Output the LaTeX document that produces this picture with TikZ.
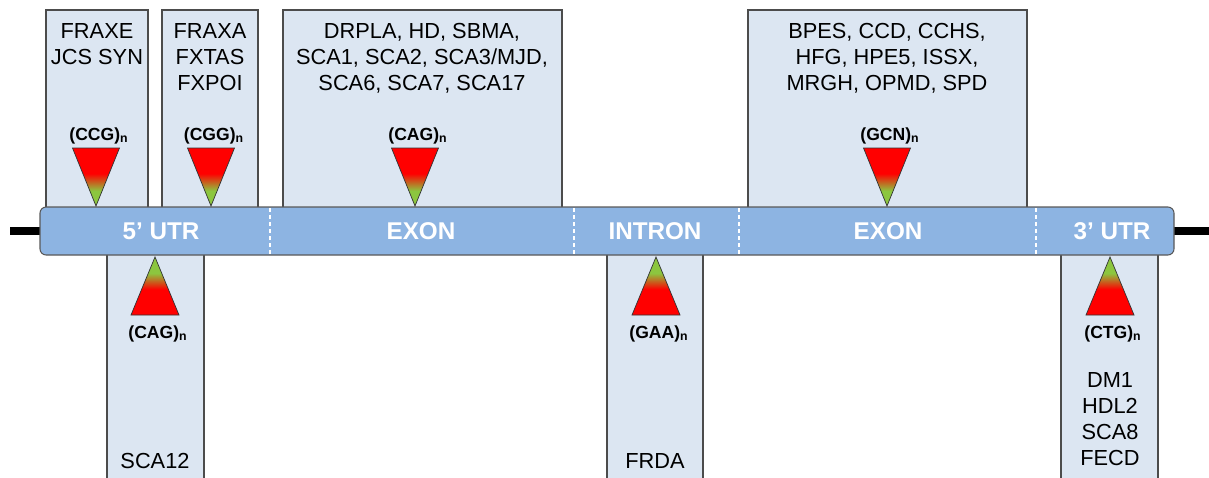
\documentclass[tikz,border=0pt]{standalone}
\usepackage{fontspec}
\setmainfont{Liberation Sans}
\usetikzlibrary{positioning}

\definecolor{boxblue}{RGB}{220,230,242}
\definecolor{barblue}{RGB}{141,180,226}
\definecolor{trigreen}{RGB}{140,198,63}

% red base fading into a green tip
\pgfdeclareverticalshading{repeatdown}{100bp}{color(0bp)=(trigreen); color(38bp)=(trigreen); color(53bp)=(red); color(100bp)=(red)}
\pgfdeclareverticalshading{repeatup}{100bp}{color(0bp)=(red); color(47bp)=(red); color(61bp)=(trigreen); color(100bp)=(trigreen)}

\tikzset{
  diseasebox/.style={draw=black!70, fill=boxblue, line width=0.6pt}, % light boxes holding the disease names
  genebar/.style={draw=black!65, fill=barblue, rounded corners=3.5pt, line width=0.6pt}, % the gene itself
  divider/.style={draw=white, dash pattern=on 2.4pt off 1.6pt, line width=0.9pt}, % borders between regions
  backbone/.style={draw=black, line width=4.8pt}, % flanking DNA
  region/.style={text=white, inner sep=0pt, font=\fontsize{13.8}{16}\selectfont\bfseries},
  disease/.style={align=center, inner sep=0pt, font=\fontsize{12.4}{14.9}\selectfont},
  motif/.style={inner sep=0pt, font=\fontsize{10}{12}\selectfont\bfseries},
  downrepeat/.style={shade, shading=repeatdown, draw=black!80, line width=0.4pt},
  uprepeat/.style={shade, shading=repeatup, draw=black!80, line width=0.4pt},
}

\begin{document}
\begin{tikzpicture}[x=0.02cm, y=-0.02cm]
  \useasboundingbox (0,0) rectangle (1209,477);

  % boxes above the gene
  \draw[diseasebox] (46,10) rectangle (148,212);
  \draw[diseasebox] (162,10) rectangle (258,212);
  \draw[diseasebox] (283,10) rectangle (562,212);
  \draw[diseasebox] (748,10) rectangle (1027,212);

  % boxes below the gene
  \draw[diseasebox] (107,250) rectangle (204,482);
  \draw[diseasebox] (607,250) rectangle (703,482);
  \draw[diseasebox] (1061,250) rectangle (1158,482);

  % the gene
  \draw[backbone] (10,231) -- (42,231);
  \draw[backbone] (1172,231) -- (1209,231);
  \draw[genebar] (40,207) rectangle (1174,255);
  \draw[divider] (270,208) -- (270,254);
  \draw[divider] (574,208) -- (574,254);
  \draw[divider] (739,208) -- (739,254);
  \draw[divider] (1036,208) -- (1036,254);

  \node[region] (utrfive) at (161,231) {5’ UTR};
  \node[region] (exonone) at (421,231) {EXON};
  \node[region] (intron) at (655,231) {INTRON};
  \node[region] (exontwo) at (888,231) {EXON};
  \node[region] (utrthree) at (1112,231) {3’ UTR};

  % repeat expansions
  \path[downrepeat] (72.5,148) -- (119.5,148) -- (96,206) -- cycle;
  \path[downrepeat] (187.5,148) -- (234.5,148) -- (211,206) -- cycle;
  \path[downrepeat] (391.5,148) -- (438.5,148) -- (415,206) -- cycle;
  \path[downrepeat] (863.5,148) -- (910.5,148) -- (887,206) -- cycle;
  \path[uprepeat] (155,257) -- (179,315) -- (131,315) -- cycle;
  \path[uprepeat] (656,257) -- (680,315) -- (632,315) -- cycle;
  \path[uprepeat] (1110,257) -- (1134,315) -- (1086,315) -- cycle;

  \node[motif, anchor=base] (ccg) at (99,140) {(CCG)\textsubscript{n}};
  \node[motif, anchor=base] (cgg) at (214,140) {(CGG)\textsubscript{n}};
  \node[motif, anchor=base] (cagtop) at (418,140) {(CAG)\textsubscript{n}};
  \node[motif, anchor=base] (gcn) at (890,140) {(GCN)\textsubscript{n}};
  \node[motif, anchor=base] (cagbottom) at (158,338) {(CAG)\textsubscript{n}};
  \node[motif, anchor=base] (gaa) at (659,338) {(GAA)\textsubscript{n}};
  \node[motif, anchor=base] (ctg) at (1113,338) {(CTG)\textsubscript{n}};

  % associated disorders
  \node[disease, anchor=north] (fraxe) at (97,23) {FRAXE\\JCS SYN};
  \node[disease, anchor=north] (fraxa) at (210,23) {FRAXA\\FXTAS\\FXPOI};
  \node[disease, anchor=north] (drpla) at (422,23) {DRPLA, HD, SBMA,\\SCA1, SCA2, SCA3/MJD,\\SCA6, SCA7, SCA17};
  \node[disease, anchor=north] (bpes) at (887,23) {BPES, CCD, CCHS,\\HFG, HPE5, ISSX,\\MRGH, OPMD, SPD};
  \node[disease, anchor=base] (sca12) at (155,468) {SCA12};
  \node[disease, anchor=base] (frda) at (655,468) {FRDA};
  \node[disease, anchor=north] (dm1) at (1110,372) {DM1\\HDL2\\SCA8\\FECD};
\end{tikzpicture}
\end{document}
